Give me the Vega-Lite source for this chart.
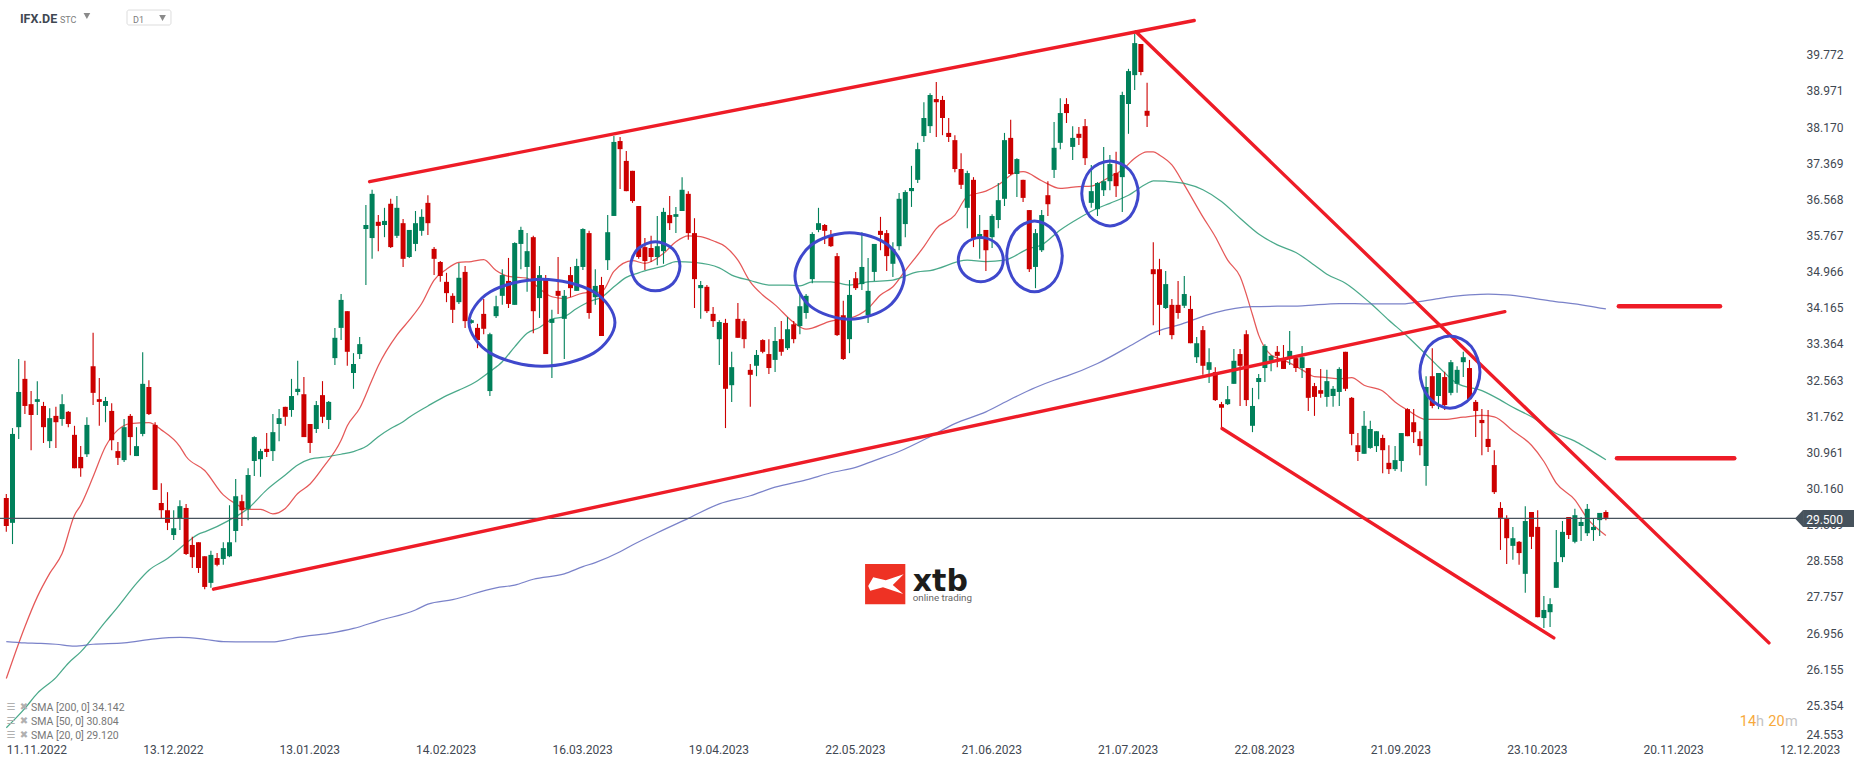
{"$schema":"https://vega.github.io/schema/vega-lite/v6.json","autosize":"none","padding":{"left":0,"top":0,"right":66,"bottom":25.4},"width":1800,"height":741.6,"background":"#ffffff","config":{"view":{"stroke":null},"text":{"font":"Roboto"},"axisY":{"tickCount":40,"labelOverlap":false},"axisX":{"labelOverlap":false}},
"datasets":{
"candles":[
{"i":0,"o":29.95,"h":30.04,"l":29.20,"c":29.33},{"i":1,"o":29.40,"h":31.50,"l":28.93,"c":31.37},{"i":2,"o":31.52,"h":33.03,"l":31.26,"c":32.30},{"i":3,"o":32.59,"h":32.99,"l":31.81,"c":31.99},{"i":4,"o":32.03,"h":32.32,"l":31.01,"c":31.79},{"i":5,"o":32.08,"h":32.54,"l":31.79,"c":32.14},{"i":6,"o":31.99,"h":32.08,"l":31.17,"c":31.52},{"i":7,"o":31.21,"h":31.94,"l":31.06,"c":31.72},{"i":8,"o":31.77,"h":31.97,"l":31.06,"c":31.63},{"i":9,"o":31.70,"h":32.25,"l":31.55,"c":32.03},
{"i":10,"o":31.86,"h":31.88,"l":31.52,"c":31.59},{"i":11,"o":31.35,"h":31.55,"l":30.61,"c":30.61},{"i":12,"o":30.86,"h":31.10,"l":30.42,"c":30.61},{"i":13,"o":30.92,"h":31.74,"l":30.86,"c":31.57},{"i":14,"o":32.87,"h":33.61,"l":32.01,"c":32.28},{"i":15,"o":32.14,"h":32.61,"l":31.55,"c":32.08},{"i":16,"o":31.99,"h":32.19,"l":31.63,"c":32.10},{"i":17,"o":31.88,"h":32.05,"l":31.01,"c":31.23},{"i":18,"o":30.99,"h":31.19,"l":30.68,"c":30.84},{"i":19,"o":30.79,"h":31.70,"l":30.75,"c":31.52},
{"i":20,"o":31.77,"h":31.81,"l":30.90,"c":31.30},{"i":21,"o":30.88,"h":31.52,"l":30.88,"c":31.10},{"i":22,"o":31.37,"h":33.18,"l":31.32,"c":32.48},{"i":23,"o":32.41,"h":32.56,"l":31.79,"c":31.81},{"i":24,"o":31.57,"h":31.63,"l":30.13,"c":30.13},{"i":25,"o":29.84,"h":30.28,"l":29.51,"c":29.68},{"i":26,"o":29.68,"h":30.08,"l":29.24,"c":29.40},{"i":27,"o":29.13,"h":29.68,"l":29.02,"c":29.28},{"i":28,"o":29.50,"h":29.90,"l":29.24,"c":29.77},{"i":29,"o":29.73,"h":29.82,"l":28.69,"c":28.71},
{"i":30,"o":28.91,"h":29.09,"l":28.40,"c":28.64},{"i":31,"o":28.97,"h":28.97,"l":28.29,"c":28.40},{"i":32,"o":28.66,"h":28.66,"l":27.93,"c":27.98},{"i":33,"o":28.07,"h":28.78,"l":27.96,"c":28.69},{"i":34,"o":28.62,"h":28.73,"l":28.44,"c":28.47},{"i":35,"o":28.60,"h":28.97,"l":28.47,"c":28.84},{"i":36,"o":28.66,"h":29.79,"l":28.64,"c":28.97},{"i":37,"o":29.22,"h":30.37,"l":28.97,"c":29.99},{"i":38,"o":29.88,"h":30.02,"l":29.33,"c":29.68},{"i":39,"o":29.71,"h":30.61,"l":29.46,"c":30.46},
{"i":40,"o":30.77,"h":31.32,"l":30.44,"c":31.30},{"i":41,"o":30.81,"h":31.04,"l":30.42,"c":30.99},{"i":42,"o":31.04,"h":31.39,"l":30.86,"c":30.97},{"i":43,"o":30.99,"h":31.81,"l":30.77,"c":31.41},{"i":44,"o":31.59,"h":31.92,"l":31.21,"c":31.72},{"i":45,"o":31.97,"h":31.97,"l":31.55,"c":31.75},{"i":46,"o":31.90,"h":32.59,"l":31.75,"c":32.21},{"i":47,"o":32.30,"h":32.99,"l":32.23,"c":32.37},{"i":48,"o":32.25,"h":32.63,"l":31.30,"c":31.30},{"i":49,"o":31.59,"h":31.59,"l":30.95,"c":31.17},
{"i":50,"o":31.48,"h":32.10,"l":31.39,"c":32.01},{"i":51,"o":32.23,"h":32.54,"l":31.61,"c":31.75},{"i":52,"o":31.68,"h":32.10,"l":31.48,"c":32.08},{"i":53,"o":33.05,"h":33.72,"l":32.90,"c":33.50},{"i":54,"o":33.72,"h":34.47,"l":33.45,"c":34.34},{"i":55,"o":34.09,"h":34.09,"l":32.88,"c":33.19},{"i":56,"o":32.72,"h":33.16,"l":32.37,"c":32.92},{"i":57,"o":33.14,"h":33.52,"l":33.03,"c":33.36},{"i":58,"o":35.91,"h":36.44,"l":34.67,"c":36.00},{"i":59,"o":35.71,"h":36.78,"l":35.25,"c":36.69},
{"i":60,"o":36.07,"h":36.22,"l":35.42,"c":35.98},{"i":61,"o":36.00,"h":36.38,"l":35.73,"c":36.09},{"i":62,"o":36.47,"h":36.58,"l":35.49,"c":35.51},{"i":63,"o":35.76,"h":36.64,"l":35.71,"c":36.38},{"i":64,"o":36.04,"h":36.13,"l":35.07,"c":35.25},{"i":65,"o":35.29,"h":35.89,"l":35.27,"c":35.89},{"i":66,"o":35.58,"h":36.31,"l":35.42,"c":36.04},{"i":67,"o":35.87,"h":36.35,"l":35.76,"c":36.18},{"i":68,"o":36.49,"h":36.66,"l":35.78,"c":36.04},{"i":69,"o":35.47,"h":35.51,"l":34.89,"c":35.25},
{"i":70,"o":35.18,"h":35.20,"l":34.74,"c":34.87},{"i":71,"o":34.74,"h":34.94,"l":34.29,"c":34.49},{"i":72,"o":34.43,"h":34.49,"l":33.83,"c":34.12},{"i":73,"o":34.29,"h":35.16,"l":34.25,"c":34.83},{"i":74,"o":34.96,"h":35.09,"l":33.72,"c":33.87},{"i":75,"o":33.83,"h":33.91,"l":33.81,"c":33.89},{"i":76,"o":33.72,"h":33.81,"l":33.27,"c":33.45},{"i":77,"o":34.03,"h":34.36,"l":33.58,"c":33.70},{"i":78,"o":32.32,"h":33.61,"l":32.21,"c":33.58},{"i":79,"o":33.98,"h":34.43,"l":33.94,"c":34.20},
{"i":80,"o":34.43,"h":35.02,"l":34.23,"c":34.89},{"i":81,"o":34.76,"h":35.27,"l":34.16,"c":34.25},{"i":82,"o":34.23,"h":35.62,"l":34.23,"c":35.60},{"i":83,"o":35.58,"h":35.96,"l":35.02,"c":35.89},{"i":84,"o":35.07,"h":35.82,"l":34.52,"c":35.42},{"i":85,"o":35.73,"h":35.76,"l":33.60,"c":34.09},{"i":86,"o":34.38,"h":35.09,"l":33.94,"c":34.89},{"i":87,"o":34.78,"h":34.89,"l":33.14,"c":33.14},{"i":88,"o":33.83,"h":34.12,"l":32.61,"c":33.92},{"i":89,"o":34.54,"h":35.29,"l":34.03,"c":34.43},
{"i":90,"o":33.92,"h":34.56,"l":33.03,"c":34.43},{"i":91,"o":34.89,"h":35.07,"l":34.40,"c":34.60},{"i":92,"o":34.54,"h":35.25,"l":34.54,"c":35.09},{"i":93,"o":35.07,"h":35.93,"l":35.00,"c":35.91},{"i":94,"o":35.82,"h":35.87,"l":33.92,"c":34.05},{"i":95,"o":34.40,"h":35.02,"l":34.23,"c":34.65},{"i":96,"o":34.67,"h":34.85,"l":33.54,"c":33.54},{"i":97,"o":35.22,"h":36.22,"l":35.00,"c":35.84},{"i":98,"o":36.20,"h":37.97,"l":36.20,"c":37.84},{"i":99,"o":37.86,"h":37.95,"l":36.80,"c":37.68},
{"i":100,"o":37.42,"h":37.64,"l":36.75,"c":36.75},{"i":101,"o":37.20,"h":37.20,"l":36.49,"c":36.53},{"i":102,"o":36.42,"h":36.42,"l":35.25,"c":35.29},{"i":103,"o":35.51,"h":35.71,"l":35.00,"c":35.20},{"i":104,"o":35.49,"h":35.76,"l":35.18,"c":35.29},{"i":105,"o":35.29,"h":36.20,"l":35.11,"c":35.53},{"i":106,"o":35.42,"h":36.38,"l":35.14,"c":36.29},{"i":107,"o":36.22,"h":36.64,"l":35.89,"c":36.04},{"i":108,"o":36.18,"h":36.40,"l":35.82,"c":36.24},{"i":109,"o":36.31,"h":37.06,"l":36.31,"c":36.78},
{"i":110,"o":36.69,"h":36.75,"l":35.67,"c":35.82},{"i":111,"o":35.82,"h":36.15,"l":34.16,"c":34.80},{"i":112,"o":34.60,"h":34.76,"l":33.92,"c":34.67},{"i":113,"o":34.63,"h":34.67,"l":34.05,"c":34.09},{"i":114,"o":34.03,"h":34.18,"l":33.74,"c":33.87},{"i":115,"o":33.47,"h":33.89,"l":32.90,"c":33.85},{"i":116,"o":33.83,"h":33.92,"l":31.50,"c":32.37},{"i":117,"o":32.45,"h":33.19,"l":32.08,"c":32.85},{"i":118,"o":33.92,"h":34.27,"l":33.50,"c":33.50},{"i":119,"o":33.87,"h":33.92,"l":33.27,"c":33.47},
{"i":120,"o":32.79,"h":32.92,"l":31.97,"c":32.68},{"i":121,"o":32.88,"h":33.23,"l":32.65,"c":33.12},{"i":122,"o":33.45,"h":33.47,"l":33.16,"c":33.19},{"i":123,"o":33.14,"h":33.47,"l":32.70,"c":32.83},{"i":124,"o":33.01,"h":33.74,"l":32.74,"c":33.43},{"i":125,"o":33.47,"h":33.87,"l":33.10,"c":33.19},{"i":126,"o":33.27,"h":33.96,"l":33.23,"c":33.69},{"i":127,"o":33.80,"h":33.87,"l":33.38,"c":33.47},{"i":128,"o":33.76,"h":34.45,"l":33.58,"c":34.20},{"i":129,"o":34.05,"h":34.47,"l":33.92,"c":34.43},
{"i":130,"o":34.80,"h":35.84,"l":34.71,"c":35.80},{"i":131,"o":35.89,"h":36.38,"l":35.84,"c":36.04},{"i":132,"o":36.00,"h":36.02,"l":35.58,"c":35.87},{"i":133,"o":35.76,"h":35.89,"l":35.51,"c":35.53},{"i":134,"o":35.31,"h":35.38,"l":33.54,"c":33.56},{"i":135,"o":34.00,"h":34.32,"l":33.01,"c":33.03},{"i":136,"o":33.47,"h":34.78,"l":33.16,"c":34.45},{"i":137,"o":34.82,"h":34.96,"l":34.56,"c":34.60},{"i":138,"o":34.69,"h":35.84,"l":34.56,"c":35.07},{"i":139,"o":34.00,"h":35.27,"l":33.83,"c":34.54},
{"i":140,"o":34.96,"h":35.58,"l":34.76,"c":35.58},{"i":141,"o":35.87,"h":36.18,"l":35.44,"c":35.78},{"i":142,"o":35.82,"h":35.89,"l":34.98,"c":35.31},{"i":143,"o":35.14,"h":35.62,"l":34.85,"c":35.47},{"i":144,"o":35.53,"h":36.71,"l":35.44,"c":36.58},{"i":145,"o":36.02,"h":36.77,"l":35.73,"c":36.73},{"i":146,"o":36.75,"h":37.31,"l":36.40,"c":36.82},{"i":147,"o":37.00,"h":37.82,"l":36.93,"c":37.68},{"i":148,"o":37.97,"h":38.72,"l":37.84,"c":38.37},{"i":149,"o":38.19,"h":38.92,"l":38.04,"c":38.88},
{"i":150,"o":38.79,"h":39.17,"l":37.95,"c":38.72},{"i":151,"o":38.77,"h":38.86,"l":37.99,"c":38.37},{"i":152,"o":38.04,"h":38.37,"l":37.84,"c":37.95},{"i":153,"o":37.88,"h":37.99,"l":37.17,"c":37.24},{"i":154,"o":37.24,"h":37.59,"l":36.80,"c":36.89},{"i":155,"o":36.38,"h":37.20,"l":35.93,"c":37.15},{"i":156,"o":37.00,"h":37.06,"l":35.51,"c":35.71},{"i":157,"o":35.71,"h":36.22,"l":35.25,"c":35.80},{"i":158,"o":35.89,"h":35.89,"l":34.98,"c":35.44},{"i":159,"o":35.73,"h":36.24,"l":35.49,"c":36.20},
{"i":160,"o":36.11,"h":36.93,"l":35.93,"c":36.55},{"i":161,"o":36.58,"h":38.04,"l":36.42,"c":37.88},{"i":162,"o":37.93,"h":38.33,"l":37.11,"c":37.13},{"i":163,"o":37.13,"h":37.48,"l":36.62,"c":37.46},{"i":164,"o":37.00,"h":37.00,"l":36.51,"c":36.60},{"i":165,"o":36.33,"h":36.33,"l":34.96,"c":35.02},{"i":166,"o":35.07,"h":35.91,"l":34.60,"c":35.82},{"i":167,"o":35.44,"h":36.33,"l":35.40,"c":36.22},{"i":168,"o":36.66,"h":36.97,"l":36.20,"c":36.46},{"i":169,"o":37.22,"h":38.28,"l":37.04,"c":37.71},
{"i":170,"o":37.82,"h":38.81,"l":37.68,"c":38.48},{"i":171,"o":38.68,"h":38.81,"l":38.26,"c":38.48},{"i":172,"o":37.73,"h":38.19,"l":37.44,"c":37.93},{"i":173,"o":38.02,"h":38.17,"l":37.77,"c":37.93},{"i":174,"o":38.19,"h":38.35,"l":37.33,"c":37.48},{"i":175,"o":36.49,"h":37.33,"l":36.38,"c":36.75},{"i":176,"o":36.35,"h":36.95,"l":36.20,"c":36.93},{"i":177,"o":36.77,"h":37.73,"l":36.64,"c":36.97},{"i":178,"o":36.97,"h":37.55,"l":36.77,"c":37.35},{"i":179,"o":37.15,"h":37.62,"l":36.62,"c":36.86},
{"i":180,"o":37.06,"h":38.95,"l":36.29,"c":38.88},{"i":181,"o":38.68,"h":39.46,"l":38.02,"c":39.41},{"i":182,"o":39.32,"h":40.23,"l":38.99,"c":40.03},{"i":183,"o":40.01,"h":40.01,"l":39.32,"c":39.39},{"i":184,"o":38.53,"h":39.15,"l":38.17,"c":38.42},{"i":185,"o":35.02,"h":35.62,"l":33.78,"c":34.91},{"i":186,"o":35.02,"h":35.25,"l":33.56,"c":34.23},{"i":187,"o":34.16,"h":34.98,"l":34.14,"c":34.69},{"i":188,"o":34.23,"h":34.36,"l":33.47,"c":33.56},{"i":189,"o":34.23,"h":34.76,"l":33.92,"c":34.05},
{"i":190,"o":34.21,"h":34.87,"l":34.16,"c":34.47},{"i":191,"o":34.14,"h":34.43,"l":33.38,"c":33.38},{"i":192,"o":33.07,"h":33.52,"l":32.94,"c":33.38},{"i":193,"o":33.67,"h":33.76,"l":32.68,"c":32.88},{"i":194,"o":32.79,"h":33.27,"l":32.50,"c":32.96},{"i":195,"o":32.74,"h":32.85,"l":32.10,"c":32.12},{"i":196,"o":32.03,"h":32.08,"l":31.50,"c":31.95},{"i":197,"o":32.03,"h":32.43,"l":32.01,"c":32.14},{"i":198,"o":32.48,"h":33.25,"l":32.48,"c":32.99},{"i":199,"o":33.14,"h":33.25,"l":31.99,"c":32.88},
{"i":200,"o":33.58,"h":33.67,"l":31.99,"c":32.12},{"i":201,"o":31.55,"h":32.39,"l":31.41,"c":31.99},{"i":202,"o":32.52,"h":32.70,"l":32.14,"c":32.61},{"i":203,"o":32.83,"h":33.36,"l":32.52,"c":33.32},{"i":204,"o":32.99,"h":33.12,"l":32.76,"c":33.10},{"i":205,"o":33.19,"h":33.32,"l":32.85,"c":33.10},{"i":206,"o":33.05,"h":33.34,"l":32.81,"c":32.81},{"i":207,"o":33.05,"h":33.65,"l":32.90,"c":33.21},{"i":208,"o":33.05,"h":33.12,"l":32.74,"c":32.83},{"i":209,"o":32.83,"h":33.32,"l":32.61,"c":33.07},
{"i":210,"o":32.83,"h":32.83,"l":31.88,"c":32.17},{"i":211,"o":32.43,"h":32.50,"l":31.77,"c":32.19},{"i":212,"o":32.34,"h":32.81,"l":32.17,"c":32.26},{"i":213,"o":32.19,"h":32.79,"l":31.97,"c":32.54},{"i":214,"o":32.21,"h":32.43,"l":31.97,"c":32.37},{"i":215,"o":32.30,"h":32.85,"l":31.99,"c":32.81},{"i":216,"o":33.19,"h":33.19,"l":32.32,"c":32.37},{"i":217,"o":32.17,"h":32.19,"l":31.12,"c":31.37},{"i":218,"o":31.12,"h":31.39,"l":30.77,"c":30.97},{"i":219,"o":30.93,"h":31.88,"l":30.93,"c":31.55},
{"i":220,"o":31.06,"h":31.66,"l":31.04,"c":31.48},{"i":221,"o":31.10,"h":31.43,"l":30.97,"c":31.43},{"i":222,"o":31.28,"h":31.35,"l":30.50,"c":31.01},{"i":223,"o":30.73,"h":31.12,"l":30.48,"c":30.59},{"i":224,"o":30.59,"h":31.10,"l":30.55,"c":30.79},{"i":225,"o":30.77,"h":31.39,"l":30.53,"c":31.39},{"i":226,"o":31.92,"h":31.94,"l":31.32,"c":31.32},{"i":227,"o":31.63,"h":31.92,"l":31.17,"c":31.41},{"i":228,"o":31.26,"h":31.43,"l":30.90,"c":31.10},{"i":229,"o":30.66,"h":32.65,"l":30.22,"c":32.41},
{"i":230,"o":32.65,"h":33.27,"l":31.94,"c":31.99},{"i":231,"o":32.21,"h":32.72,"l":31.92,"c":32.72},{"i":232,"o":32.63,"h":32.75,"l":31.90,"c":32.01},{"i":233,"o":32.28,"h":33.01,"l":32.23,"c":32.96},{"i":234,"o":32.48,"h":32.87,"l":32.28,"c":32.79},{"i":235,"o":32.96,"h":33.19,"l":32.63,"c":33.07},{"i":236,"o":32.83,"h":33.01,"l":32.12,"c":32.14},{"i":237,"o":32.08,"h":32.12,"l":31.30,"c":31.88},{"i":238,"o":31.68,"h":31.92,"l":30.90,"c":31.61},{"i":239,"o":31.26,"h":31.90,"l":30.97,"c":31.08},
{"i":240,"o":30.68,"h":31.01,"l":30.04,"c":30.08},{"i":241,"o":29.73,"h":29.86,"l":28.80,"c":29.51},{"i":242,"o":29.49,"h":29.57,"l":28.49,"c":29.06},{"i":243,"o":28.89,"h":29.31,"l":28.58,"c":29.06},{"i":244,"o":28.98,"h":29.00,"l":28.47,"c":28.73},{"i":245,"o":28.27,"h":29.77,"l":27.85,"c":29.44},{"i":246,"o":29.64,"h":29.64,"l":28.82,"c":29.09},{"i":247,"o":29.31,"h":29.68,"l":27.31,"c":27.31},{"i":248,"o":27.29,"h":27.78,"l":27.07,"c":27.47},{"i":249,"o":27.42,"h":27.73,"l":27.09,"c":27.60},
{"i":250,"o":27.96,"h":29.24,"l":27.96,"c":28.53},{"i":251,"o":28.64,"h":29.44,"l":28.53,"c":29.20},{"i":252,"o":29.53,"h":29.53,"l":29.04,"c":29.13},{"i":253,"o":28.98,"h":29.71,"l":28.95,"c":29.57},{"i":254,"o":29.33,"h":29.53,"l":29.00,"c":29.42},{"i":255,"o":29.17,"h":29.82,"l":29.11,"c":29.71},{"i":256,"o":29.24,"h":29.49,"l":29.00,"c":29.31},{"i":257,"o":29.46,"h":29.62,"l":29.11,"c":29.62},{"i":258,"o":29.64,"h":29.68,"l":29.46,"c":29.51}
],
"sma":[
{"s":"SMA 20","i":0,"p":25.95},{"s":"SMA 20","i":3,"p":27.10},{"s":"SMA 20","i":5,"p":27.76},{"s":"SMA 20","i":7,"p":28.28},{"s":"SMA 20","i":9,"p":28.72},{"s":"SMA 20","i":11,"p":29.57},{"s":"SMA 20","i":12,"p":29.79},{"s":"SMA 20","i":14,"p":30.42},{"s":"SMA 20","i":16,"p":31.09},{"s":"SMA 20","i":18,"p":31.46},{"s":"SMA 20","i":20,"p":31.60},{"s":"SMA 20","i":23,"p":31.62},{"s":"SMA 20","i":25,"p":31.46},{"s":"SMA 20","i":28,"p":31.09},{"s":"SMA 20","i":29,"p":30.87},{"s":"SMA 20","i":32,"p":30.56},{"s":"SMA 20","i":35,"p":30.02},{"s":"SMA 20","i":37,"p":29.82},{"s":"SMA 20","i":39,"p":29.70},{"s":"SMA 20","i":41,"p":29.70},{"s":"SMA 20","i":43,"p":29.60},{"s":"SMA 20","i":45,"p":29.72},{"s":"SMA 20","i":47,"p":30.05},{"s":"SMA 20","i":49,"p":30.26},{"s":"SMA 20","i":51,"p":30.61},{"s":"SMA 20","i":54,"p":31.23},{"s":"SMA 20","i":55,"p":31.55},{"s":"SMA 20","i":57,"p":31.94},{"s":"SMA 20","i":59,"p":32.57},{"s":"SMA 20","i":60,"p":32.88},{"s":"SMA 20","i":63,"p":33.56},{"s":"SMA 20","i":65,"p":33.89},{"s":"SMA 20","i":67,"p":34.26},{"s":"SMA 20","i":69,"p":34.78},{"s":"SMA 20","i":71,"p":35.02},{"s":"SMA 20","i":73,"p":35.17},{"s":"SMA 20","i":75,"p":35.19},{"s":"SMA 20","i":77,"p":35.23},{"s":"SMA 20","i":79,"p":34.99},{"s":"SMA 20","i":81,"p":34.86},{"s":"SMA 20","i":84,"p":34.82},{"s":"SMA 20","i":85,"p":34.71},{"s":"SMA 20","i":88,"p":34.41},{"s":"SMA 20","i":90,"p":34.37},{"s":"SMA 20","i":93,"p":34.49},{"s":"SMA 20","i":96,"p":34.52},{"s":"SMA 20","i":98,"p":34.97},{"s":"SMA 20","i":101,"p":35.21},{"s":"SMA 20","i":103,"p":35.15},{"s":"SMA 20","i":106,"p":35.37},{"s":"SMA 20","i":108,"p":35.63},{"s":"SMA 20","i":110,"p":35.76},{"s":"SMA 20","i":112,"p":35.74},{"s":"SMA 20","i":114,"p":35.65},{"s":"SMA 20","i":116,"p":35.52},{"s":"SMA 20","i":118,"p":35.22},{"s":"SMA 20","i":120,"p":34.74},{"s":"SMA 20","i":122,"p":34.45},{"s":"SMA 20","i":124,"p":34.23},{"s":"SMA 20","i":127,"p":33.84},{"s":"SMA 20","i":129,"p":33.69},{"s":"SMA 20","i":133,"p":33.87},{"s":"SMA 20","i":136,"p":33.93},{"s":"SMA 20","i":139,"p":34.15},{"s":"SMA 20","i":141,"p":34.45},{"s":"SMA 20","i":143,"p":34.63},{"s":"SMA 20","i":145,"p":34.99},{"s":"SMA 20","i":148,"p":35.52},{"s":"SMA 20","i":150,"p":35.92},{"s":"SMA 20","i":153,"p":36.22},{"s":"SMA 20","i":155,"p":36.63},{"s":"SMA 20","i":158,"p":36.75},{"s":"SMA 20","i":160,"p":36.89},{"s":"SMA 20","i":163,"p":37.17},{"s":"SMA 20","i":164,"p":37.18},{"s":"SMA 20","i":167,"p":36.98},{"s":"SMA 20","i":170,"p":36.81},{"s":"SMA 20","i":173,"p":36.85},{"s":"SMA 20","i":175,"p":36.86},{"s":"SMA 20","i":178,"p":37.07},{"s":"SMA 20","i":180,"p":37.22},{"s":"SMA 20","i":182,"p":37.48},{"s":"SMA 20","i":184,"p":37.62},{"s":"SMA 20","i":185,"p":37.62},{"s":"SMA 20","i":186,"p":37.55},{"s":"SMA 20","i":188,"p":37.33},{"s":"SMA 20","i":190,"p":36.89},{"s":"SMA 20","i":193,"p":36.18},{"s":"SMA 20","i":195,"p":35.74},{"s":"SMA 20","i":197,"p":35.22},{"s":"SMA 20","i":199,"p":34.86},{"s":"SMA 20","i":201,"p":34.01},{"s":"SMA 20","i":202,"p":33.56},{"s":"SMA 20","i":204,"p":33.12},{"s":"SMA 20","i":206,"p":33.01},{"s":"SMA 20","i":209,"p":32.79},{"s":"SMA 20","i":211,"p":32.64},{"s":"SMA 20","i":213,"p":32.62},{"s":"SMA 20","i":215,"p":32.59},{"s":"SMA 20","i":217,"p":32.62},{"s":"SMA 20","i":219,"p":32.45},{"s":"SMA 20","i":222,"p":32.32},{"s":"SMA 20","i":224,"p":32.08},{"s":"SMA 20","i":226,"p":31.90},{"s":"SMA 20","i":229,"p":31.69},{"s":"SMA 20","i":232,"p":31.69},{"s":"SMA 20","i":235,"p":31.74},{"s":"SMA 20","i":238,"p":31.78},{"s":"SMA 20","i":240,"p":31.75},{"s":"SMA 20","i":243,"p":31.44},{"s":"SMA 20","i":246,"p":31.12},{"s":"SMA 20","i":248,"p":30.76},{"s":"SMA 20","i":250,"p":30.28},{"s":"SMA 20","i":253,"p":29.91},{"s":"SMA 20","i":255,"p":29.50},{"s":"SMA 20","i":258,"p":29.12},
{"s":"SMA 50","i":0,"p":24.86},{"s":"SMA 50","i":3,"p":25.29},{"s":"SMA 50","i":5,"p":25.62},{"s":"SMA 50","i":8,"p":25.97},{"s":"SMA 50","i":10,"p":26.29},{"s":"SMA 50","i":12,"p":26.54},{"s":"SMA 50","i":16,"p":27.21},{"s":"SMA 50","i":18,"p":27.54},{"s":"SMA 50","i":21,"p":28.06},{"s":"SMA 50","i":23,"p":28.35},{"s":"SMA 50","i":26,"p":28.61},{"s":"SMA 50","i":29,"p":28.95},{"s":"SMA 50","i":31,"p":29.15},{"s":"SMA 50","i":32,"p":29.20},{"s":"SMA 50","i":36,"p":29.46},{"s":"SMA 50","i":39,"p":29.72},{"s":"SMA 50","i":42,"p":30.13},{"s":"SMA 50","i":45,"p":30.46},{"s":"SMA 50","i":47,"p":30.68},{"s":"SMA 50","i":49,"p":30.81},{"s":"SMA 50","i":52,"p":30.87},{"s":"SMA 50","i":54,"p":30.92},{"s":"SMA 50","i":56,"p":30.98},{"s":"SMA 50","i":58,"p":31.09},{"s":"SMA 50","i":60,"p":31.31},{"s":"SMA 50","i":62,"p":31.49},{"s":"SMA 50","i":64,"p":31.64},{"s":"SMA 50","i":65,"p":31.74},{"s":"SMA 50","i":68,"p":31.99},{"s":"SMA 50","i":71,"p":32.22},{"s":"SMA 50","i":73,"p":32.34},{"s":"SMA 50","i":76,"p":32.55},{"s":"SMA 50","i":78,"p":32.75},{"s":"SMA 50","i":80,"p":32.97},{"s":"SMA 50","i":82,"p":33.30},{"s":"SMA 50","i":84,"p":33.60},{"s":"SMA 50","i":86,"p":33.73},{"s":"SMA 50","i":88,"p":33.91},{"s":"SMA 50","i":90,"p":33.97},{"s":"SMA 50","i":92,"p":34.15},{"s":"SMA 50","i":94,"p":34.30},{"s":"SMA 50","i":96,"p":34.40},{"s":"SMA 50","i":98,"p":34.63},{"s":"SMA 50","i":100,"p":34.84},{"s":"SMA 50","i":102,"p":34.94},{"s":"SMA 50","i":104,"p":35.02},{"s":"SMA 50","i":106,"p":35.09},{"s":"SMA 50","i":108,"p":35.19},{"s":"SMA 50","i":111,"p":35.17},{"s":"SMA 50","i":115,"p":35.05},{"s":"SMA 50","i":117,"p":34.89},{"s":"SMA 50","i":120,"p":34.77},{"s":"SMA 50","i":123,"p":34.67},{"s":"SMA 50","i":126,"p":34.67},{"s":"SMA 50","i":128,"p":34.65},{"s":"SMA 50","i":130,"p":34.74},{"s":"SMA 50","i":133,"p":34.74},{"s":"SMA 50","i":136,"p":34.67},{"s":"SMA 50","i":139,"p":34.74},{"s":"SMA 50","i":143,"p":34.78},{"s":"SMA 50","i":147,"p":34.96},{"s":"SMA 50","i":149,"p":34.99},{"s":"SMA 50","i":155,"p":35.22},{"s":"SMA 50","i":158,"p":35.19},{"s":"SMA 50","i":161,"p":35.22},{"s":"SMA 50","i":165,"p":35.48},{"s":"SMA 50","i":167,"p":35.56},{"s":"SMA 50","i":170,"p":35.89},{"s":"SMA 50","i":173,"p":36.15},{"s":"SMA 50","i":176,"p":36.37},{"s":"SMA 50","i":178,"p":36.48},{"s":"SMA 50","i":181,"p":36.66},{"s":"SMA 50","i":184,"p":36.92},{"s":"SMA 50","i":185,"p":36.98},{"s":"SMA 50","i":187,"p":36.97},{"s":"SMA 50","i":190,"p":36.92},{"s":"SMA 50","i":193,"p":36.78},{"s":"SMA 50","i":196,"p":36.52},{"s":"SMA 50","i":199,"p":36.15},{"s":"SMA 50","i":202,"p":35.80},{"s":"SMA 50","i":205,"p":35.56},{"s":"SMA 50","i":208,"p":35.39},{"s":"SMA 50","i":211,"p":35.11},{"s":"SMA 50","i":213,"p":34.91},{"s":"SMA 50","i":216,"p":34.71},{"s":"SMA 50","i":220,"p":34.27},{"s":"SMA 50","i":223,"p":33.89},{"s":"SMA 50","i":226,"p":33.53},{"s":"SMA 50","i":229,"p":33.13},{"s":"SMA 50","i":231,"p":32.86},{"s":"SMA 50","i":234,"p":32.49},{"s":"SMA 50","i":238,"p":32.33},{"s":"SMA 50","i":241,"p":32.12},{"s":"SMA 50","i":243,"p":31.96},{"s":"SMA 50","i":246,"p":31.75},{"s":"SMA 50","i":250,"p":31.38},{"s":"SMA 50","i":253,"p":31.21},{"s":"SMA 50","i":255,"p":31.05},{"s":"SMA 50","i":258,"p":30.80},
{"s":"SMA 200","i":0,"p":26.77},{"s":"SMA 200","i":3,"p":26.74},{"s":"SMA 200","i":5,"p":26.73},{"s":"SMA 200","i":8,"p":26.71},{"s":"SMA 200","i":11,"p":26.67},{"s":"SMA 200","i":14,"p":26.71},{"s":"SMA 200","i":19,"p":26.74},{"s":"SMA 200","i":24,"p":26.83},{"s":"SMA 200","i":28,"p":26.86},{"s":"SMA 200","i":32,"p":26.82},{"s":"SMA 200","i":35,"p":26.77},{"s":"SMA 200","i":39,"p":26.76},{"s":"SMA 200","i":43,"p":26.76},{"s":"SMA 200","i":45,"p":26.80},{"s":"SMA 200","i":47,"p":26.86},{"s":"SMA 200","i":52,"p":26.95},{"s":"SMA 200","i":56,"p":27.06},{"s":"SMA 200","i":60,"p":27.23},{"s":"SMA 200","i":66,"p":27.47},{"s":"SMA 200","i":68,"p":27.60},{"s":"SMA 200","i":72,"p":27.70},{"s":"SMA 200","i":79,"p":27.96},{"s":"SMA 200","i":82,"p":28.02},{"s":"SMA 200","i":85,"p":28.15},{"s":"SMA 200","i":90,"p":28.27},{"s":"SMA 200","i":93,"p":28.43},{"s":"SMA 200","i":95,"p":28.52},{"s":"SMA 200","i":99,"p":28.76},{"s":"SMA 200","i":101,"p":28.91},{"s":"SMA 200","i":105,"p":29.18},{"s":"SMA 200","i":110,"p":29.50},{"s":"SMA 200","i":115,"p":29.82},{"s":"SMA 200","i":120,"p":30.00},{"s":"SMA 200","i":124,"p":30.19},{"s":"SMA 200","i":129,"p":30.35},{"s":"SMA 200","i":133,"p":30.51},{"s":"SMA 200","i":137,"p":30.63},{"s":"SMA 200","i":140,"p":30.78},{"s":"SMA 200","i":144,"p":30.98},{"s":"SMA 200","i":149,"p":31.31},{"s":"SMA 200","i":153,"p":31.60},{"s":"SMA 200","i":158,"p":31.86},{"s":"SMA 200","i":162,"p":32.14},{"s":"SMA 200","i":166,"p":32.40},{"s":"SMA 200","i":169,"p":32.56},{"s":"SMA 200","i":171,"p":32.65},{"s":"SMA 200","i":176,"p":32.93},{"s":"SMA 200","i":182,"p":33.38},{"s":"SMA 200","i":185,"p":33.61},{"s":"SMA 200","i":189,"p":33.78},{"s":"SMA 200","i":195,"p":34.06},{"s":"SMA 200","i":201,"p":34.19},{"s":"SMA 200","i":209,"p":34.21},{"s":"SMA 200","i":215,"p":34.26},{"s":"SMA 200","i":220,"p":34.25},{"s":"SMA 200","i":225,"p":34.25},{"s":"SMA 200","i":227,"p":34.28},{"s":"SMA 200","i":231,"p":34.37},{"s":"SMA 200","i":236,"p":34.45},{"s":"SMA 200","i":239,"p":34.47},{"s":"SMA 200","i":242,"p":34.45},{"s":"SMA 200","i":249,"p":34.32},{"s":"SMA 200","i":255,"p":34.21},{"s":"SMA 200","i":258,"p":34.14}
],
"trend":[
{"t":"upper","i":58.6,"p":36.96},{"t":"upper","i":191.6,"p":40.53},
{"t":"lower","i":33.42,"p":27.93},{"t":"lower","i":241.7,"p":34.08},
{"t":"fall","i":182.2,"p":40.28},{"t":"fall","i":284.3,"p":26.74},
{"t":"floor","i":196.1,"p":31.49},{"t":"floor","i":249.6,"p":26.85}
],
"levels":[
{"t":"h1","i":260.1,"p":34.20},{"t":"h1","i":276.4,"p":34.20},
{"t":"h2","i":259.8,"p":30.83},{"t":"h2","i":278.7,"p":30.83}
],
"rings":[
{"e":"A","n":0,"i":98.17,"p":33.84},{"e":"A","n":1,"i":94.72,"p":34.52},{"e":"A","n":2,"i":86.40,"p":34.80},{"e":"A","n":3,"i":78.08,"p":34.52},{"e":"A","n":4,"i":74.63,"p":33.84},{"e":"A","n":5,"i":78.08,"p":33.16},{"e":"A","n":6,"i":86.40,"p":32.87},{"e":"A","n":7,"i":94.72,"p":33.16},
{"e":"B","n":0,"i":108.66,"p":35.09},{"e":"B","n":1,"i":107.50,"p":35.47},{"e":"B","n":2,"i":104.68,"p":35.63},{"e":"B","n":3,"i":101.86,"p":35.47},{"e":"B","n":4,"i":100.70,"p":35.09},{"e":"B","n":5,"i":101.86,"p":34.70},{"e":"B","n":6,"i":104.68,"p":34.54},{"e":"B","n":7,"i":107.50,"p":34.70},
{"e":"C","n":0,"i":144.84,"p":34.87},{"e":"C","n":1,"i":142.26,"p":35.55},{"e":"C","n":2,"i":136.02,"p":35.83},{"e":"C","n":3,"i":129.78,"p":35.55},{"e":"C","n":4,"i":127.20,"p":34.87},{"e":"C","n":5,"i":129.78,"p":34.19},{"e":"C","n":6,"i":136.02,"p":33.91},{"e":"C","n":7,"i":142.26,"p":34.19},
{"e":"D","n":0,"i":160.81,"p":35.23},{"e":"D","n":1,"i":159.75,"p":35.58},{"e":"D","n":2,"i":157.18,"p":35.72},{"e":"D","n":3,"i":154.61,"p":35.58},{"e":"D","n":4,"i":153.55,"p":35.23},{"e":"D","n":5,"i":154.61,"p":34.89},{"e":"D","n":6,"i":157.18,"p":34.74},{"e":"D","n":7,"i":159.75,"p":34.89},
{"e":"E","n":0,"i":170.32,"p":35.31},{"e":"E","n":1,"i":169.01,"p":35.86},{"e":"E","n":2,"i":165.84,"p":36.09},{"e":"E","n":3,"i":162.67,"p":35.86},{"e":"E","n":4,"i":161.36,"p":35.31},{"e":"E","n":5,"i":162.67,"p":34.75},{"e":"E","n":6,"i":165.84,"p":34.52},{"e":"E","n":7,"i":169.01,"p":34.75},
{"e":"F","n":0,"i":182.58,"p":36.70},{"e":"F","n":1,"i":181.25,"p":37.21},{"e":"F","n":2,"i":178.02,"p":37.42},{"e":"F","n":3,"i":174.79,"p":37.21},{"e":"F","n":4,"i":173.46,"p":36.70},{"e":"F","n":5,"i":174.79,"p":36.19},{"e":"F","n":6,"i":178.02,"p":35.98},{"e":"F","n":7,"i":181.25,"p":36.19},
{"e":"G","n":0,"i":237.69,"p":32.74},{"e":"G","n":1,"i":236.27,"p":33.31},{"e":"G","n":2,"i":232.85,"p":33.54},{"e":"G","n":3,"i":229.43,"p":33.31},{"e":"G","n":4,"i":228.01,"p":32.74},{"e":"G","n":5,"i":229.43,"p":32.18},{"e":"G","n":6,"i":232.85,"p":31.94},{"e":"G","n":7,"i":236.27,"p":32.18}
]
},
"layer":[
{"data":{"name":"sma"},"mark":{"type":"line","strokeWidth":1.25,"opacity":0.85,"interpolate":"monotone"},"encoding":{
"x":{"field":"i","type":"quantitative","scale":{"domain":[-1.016,289.31],"nice":false,"zero":false},"axis":{"title":null,"grid":false,"domain":false,"ticks":false,"values":[0,22,44,66,88,110,132,154,176,198,220,242,264,286],"labelExpr":"['11.11.2022','13.12.2022','13.01.2023','14.02.2023','16.03.2023','19.04.2023','22.05.2023','21.06.2023','21.07.2023','22.08.2023','21.09.2023','23.10.2023','20.11.2023','12.12.2023'][datum.value/22]","labelAlign":"left","labelFont":"Roboto","labelFontSize":12,"labelColor":"#3f4852","labelPadding":3,"labelFlush":false,"labelBound":false,"labelOverlap":false}},
"y":{"field":"p","type":"quantitative","scale":{"domain":[24.553,40.985],"nice":false,"zero":false},"axis":{"title":null,"orient":"right","grid":false,"domain":false,"ticks":false,"tickCount":40,"values":[39.772,38.971,38.170,37.369,36.568,35.767,34.966,34.165,33.364,32.563,31.762,30.961,30.160,29.359,28.558,27.757,26.956,26.155,25.354,24.553],"format":".3f","labelFont":"Roboto","labelFontSize":12,"labelColor":"#3f4852","labelPadding":6,"labelFlush":true,"labelBound":false,"labelOverlap":false}},
"color":{"field":"s","type":"nominal","legend":null,"scale":{"domain":["SMA 20","SMA 50","SMA 200"],"range":["#e13b3b","#2a9a76","#636cc0"]}}}},
{"data":{"name":"candles"},"mark":{"type":"rule","strokeWidth":1.1},"encoding":{"x":{"field":"i","type":"quantitative","scale":{"domain":[-1.016,289.31],"nice":false,"zero":false}},"y":{"field":"l","type":"quantitative","scale":{"domain":[24.553,40.985],"nice":false,"zero":false}},"y2":{"field":"h"},"color":{"condition":{"test":"datum.c>=datum.o","value":"#00805a"},"value":"#cc0000"}}},
{"data":{"name":"candles"},"mark":{"type":"rule","strokeWidth":5},"encoding":{"x":{"field":"i","type":"quantitative","scale":{"domain":[-1.016,289.31],"nice":false,"zero":false}},"y":{"field":"o","type":"quantitative","scale":{"domain":[24.553,40.985],"nice":false,"zero":false}},"y2":{"field":"c"},"color":{"condition":{"test":"datum.c>=datum.o","value":"#00805a"},"value":"#cc0000"}}},
{"data":{"values":[{"p":29.5}]},"mark":{"type":"rule","color":"#47525c","strokeWidth":1.4},"encoding":{"y":{"field":"p","type":"quantitative","scale":{"domain":[24.553,40.985],"nice":false,"zero":false}}}},
{"data":{"name":"trend"},"mark":{"type":"line","color":"#ee1c27","strokeWidth":3.4,"strokeCap":"round"},"encoding":{"x":{"field":"i","type":"quantitative","scale":{"domain":[-1.016,289.31],"nice":false,"zero":false}},"y":{"field":"p","type":"quantitative","scale":{"domain":[24.553,40.985],"nice":false,"zero":false}},"detail":{"field":"t"}}},
{"data":{"name":"levels"},"mark":{"type":"line","color":"#ee1c27","strokeWidth":4.6,"strokeCap":"round"},"encoding":{"x":{"field":"i","type":"quantitative","scale":{"domain":[-1.016,289.31],"nice":false,"zero":false}},"y":{"field":"p","type":"quantitative","scale":{"domain":[24.553,40.985],"nice":false,"zero":false}},"detail":{"field":"t"}}},
{"data":{"name":"rings"},"mark":{"type":"line","color":"#3f48cc","strokeWidth":3,"interpolate":"cardinal-closed"},"encoding":{"x":{"field":"i","type":"quantitative","scale":{"domain":[-1.016,289.31],"nice":false,"zero":false}},"y":{"field":"p","type":"quantitative","scale":{"domain":[24.553,40.985],"nice":false,"zero":false}},"detail":{"field":"e"},"order":{"field":"n"}}},
{"data":{"values":[{"i":289.8,"i2":298.02,"p":29.683,"p2":29.306}]},"mark":{"type":"rect","color":"#46525c"},"encoding":{"x":{"field":"i","type":"quantitative","scale":{"domain":[-1.016,289.31],"nice":false,"zero":false}},"x2":{"field":"i2"},"y":{"field":"p","type":"quantitative","scale":{"domain":[24.553,40.985],"nice":false,"zero":false}},"y2":{"field":"p2"}}},
{"data":{"values":[{"i":289.15,"p":29.495}]},"mark":{"type":"point","filled":true,"opacity":1,"color":"#46525c","shape":"M-.47,0L.47,-1L.47,1Z","size":289},"encoding":{"x":{"field":"i","type":"quantitative","scale":{"domain":[-1.016,289.31],"nice":false,"zero":false}},"y":{"field":"p","type":"quantitative","scale":{"domain":[24.553,40.985],"nice":false,"zero":false}}}},
{"data":{"values":[{"i":19.47,"i2":26.56,"p":40.763,"p2":40.431}]},"mark":{"type":"rect","fill":"#ffffff","stroke":"#dddddd","strokeWidth":1,"cornerRadius":2},"encoding":{"x":{"field":"i","type":"quantitative","scale":{"domain":[-1.016,289.31],"nice":false,"zero":false}},"x2":{"field":"i2"},"y":{"field":"p","type":"quantitative","scale":{"domain":[24.553,40.985],"nice":false,"zero":false}},"y2":{"field":"p2"}}},
{"data":{"values":[{"i":13.0,"p":40.63},{"i":25.2,"p":40.586}]},"mark":{"type":"point","filled":true,"opacity":1,"color":"#8a8a8a","shape":"triangle-down","size":45},"encoding":{"x":{"field":"i","type":"quantitative","scale":{"domain":[-1.016,289.31],"nice":false,"zero":false}},"y":{"field":"p","type":"quantitative","scale":{"domain":[24.553,40.985],"nice":false,"zero":false}}}},
{"data":{"values":[{"i":141.76,"p":28.04}]},"mark":{"type":"point","filled":true,"opacity":1,"color":"#ee3224","shape":"square","size":1620},"encoding":{"x":{"field":"i","type":"quantitative","scale":{"domain":[-1.016,289.31],"nice":false,"zero":false}},"y":{"field":"p","type":"quantitative","scale":{"domain":[24.553,40.985],"nice":false,"zero":false}}}},
{"data":{"values":[{"i":141.76,"p":28.04}]},"mark":{"type":"point","filled":true,"opacity":1,"color":"#ffffff","shape":"M-.6,-.35L.03,-.2L.92,-.5L.38,.04L.9,.49L-.11,.155L-.75,.325L-.85,.09Z","size":1600},"encoding":{"x":{"field":"i","type":"quantitative","scale":{"domain":[-1.016,289.31],"nice":false,"zero":false}},"y":{"field":"p","type":"quantitative","scale":{"domain":[24.553,40.985],"nice":false,"zero":false}}}},
{"data":{"values":[{"i":146.2,"p":27.895,"t":"xtb"}]},"mark":{"type":"text","align":"left","baseline":"alphabetic","font":"DejaVu Sans","fontWeight":"bold","fontSize":30,"color":"#1d1d1b"},"encoding":{"x":{"field":"i","type":"quantitative","scale":{"domain":[-1.016,289.31],"nice":false,"zero":false}},"y":{"field":"p","type":"quantitative","scale":{"domain":[24.553,40.985],"nice":false,"zero":false}},"text":{"field":"t"}}},
{"data":{"values":[{"i":146.2,"p":27.73,"t":"online trading"}]},"mark":{"type":"text","align":"left","baseline":"middle","font":"Roboto","fontSize":9.8,"color":"#666666"},"encoding":{"x":{"field":"i","type":"quantitative","scale":{"domain":[-1.016,289.31],"nice":false,"zero":false}},"y":{"field":"p","type":"quantitative","scale":{"domain":[24.553,40.985],"nice":false,"zero":false}},"text":{"field":"t"}}},
{"data":{"values":[{"i":290.3,"p":29.47,"t":"29.500"}]},"mark":{"type":"text","align":"left","baseline":"middle","font":"Roboto","fontSize":12,"color":"#ffffff"},"encoding":{"x":{"field":"i","type":"quantitative","scale":{"domain":[-1.016,289.31],"nice":false,"zero":false}},"y":{"field":"p","type":"quantitative","scale":{"domain":[24.553,40.985],"nice":false,"zero":false}},"text":{"field":"t"}}},
{"data":{"values":[{"i":2.2,"p":40.565,"t":"IFX.DE"}]},"mark":{"type":"text","align":"left","baseline":"middle","font":"Roboto","fontWeight":"bold","fontSize":12.5,"color":"#3f4852"},"encoding":{"x":{"field":"i","type":"quantitative","scale":{"domain":[-1.016,289.31],"nice":false,"zero":false}},"y":{"field":"p","type":"quantitative","scale":{"domain":[24.553,40.985],"nice":false,"zero":false}},"text":{"field":"t"}}},
{"data":{"values":[{"i":8.66,"p":40.55,"t":"STC"},{"i":20.44,"p":40.54,"t":"D1"}]},"mark":{"type":"text","align":"left","baseline":"middle","font":"Roboto","fontSize":9,"color":"#7d7d7d"},"encoding":{"x":{"field":"i","type":"quantitative","scale":{"domain":[-1.016,289.31],"nice":false,"zero":false}},"y":{"field":"p","type":"quantitative","scale":{"domain":[24.553,40.985],"nice":false,"zero":false}},"text":{"field":"t"}}},
{"data":{"values":[{"i":3.98,"p":25.30,"t":"SMA [200,  0] 34.142"},{"i":3.98,"p":24.99,"t":"SMA [50,  0] 30.804"},{"i":3.98,"p":24.68,"t":"SMA [20,  0] 29.120"}]},"mark":{"type":"text","align":"left","baseline":"middle","font":"Roboto","fontSize":10.5,"color":"#777777"},"encoding":{"x":{"field":"i","type":"quantitative","scale":{"domain":[-1.016,289.31],"nice":false,"zero":false}},"y":{"field":"p","type":"quantitative","scale":{"domain":[24.553,40.985],"nice":false,"zero":false}},"text":{"field":"t"}}},
{"data":{"values":[{"i":0.76,"p":25.32,"t":"☰"},{"i":2.85,"p":25.32,"t":"✖"},{"i":0.76,"p":25.01,"t":"☰"},{"i":2.85,"p":25.01,"t":"✖"},{"i":0.76,"p":24.70,"t":"☰"},{"i":2.85,"p":24.70,"t":"✖"}]},"mark":{"type":"text","align":"center","baseline":"middle","font":"DejaVu Sans","fontSize":10,"color":"#b0b0b0"},"encoding":{"x":{"field":"i","type":"quantitative","scale":{"domain":[-1.016,289.31],"nice":false,"zero":false}},"y":{"field":"p","type":"quantitative","scale":{"domain":[24.553,40.985],"nice":false,"zero":false}},"text":{"field":"t"}}},
{"data":{"values":[{"i":279.6,"p":24.985,"t":"14"},{"i":284.2,"p":24.985,"t":"20"}]},"mark":{"type":"text","align":"left","baseline":"middle","font":"Roboto","fontSize":14.5,"color":"#f7a93b"},"encoding":{"x":{"field":"i","type":"quantitative","scale":{"domain":[-1.016,289.31],"nice":false,"zero":false}},"y":{"field":"p","type":"quantitative","scale":{"domain":[24.553,40.985],"nice":false,"zero":false}},"text":{"field":"t"}}},
{"data":{"values":[{"i":282.2,"p":24.985,"t":"h"},{"i":286.9,"p":24.985,"t":"m"}]},"mark":{"type":"text","align":"left","baseline":"middle","font":"Roboto","fontSize":14.5,"color":"#c4c4c4"},"encoding":{"x":{"field":"i","type":"quantitative","scale":{"domain":[-1.016,289.31],"nice":false,"zero":false}},"y":{"field":"p","type":"quantitative","scale":{"domain":[24.553,40.985],"nice":false,"zero":false}},"text":{"field":"t"}}}
]}
